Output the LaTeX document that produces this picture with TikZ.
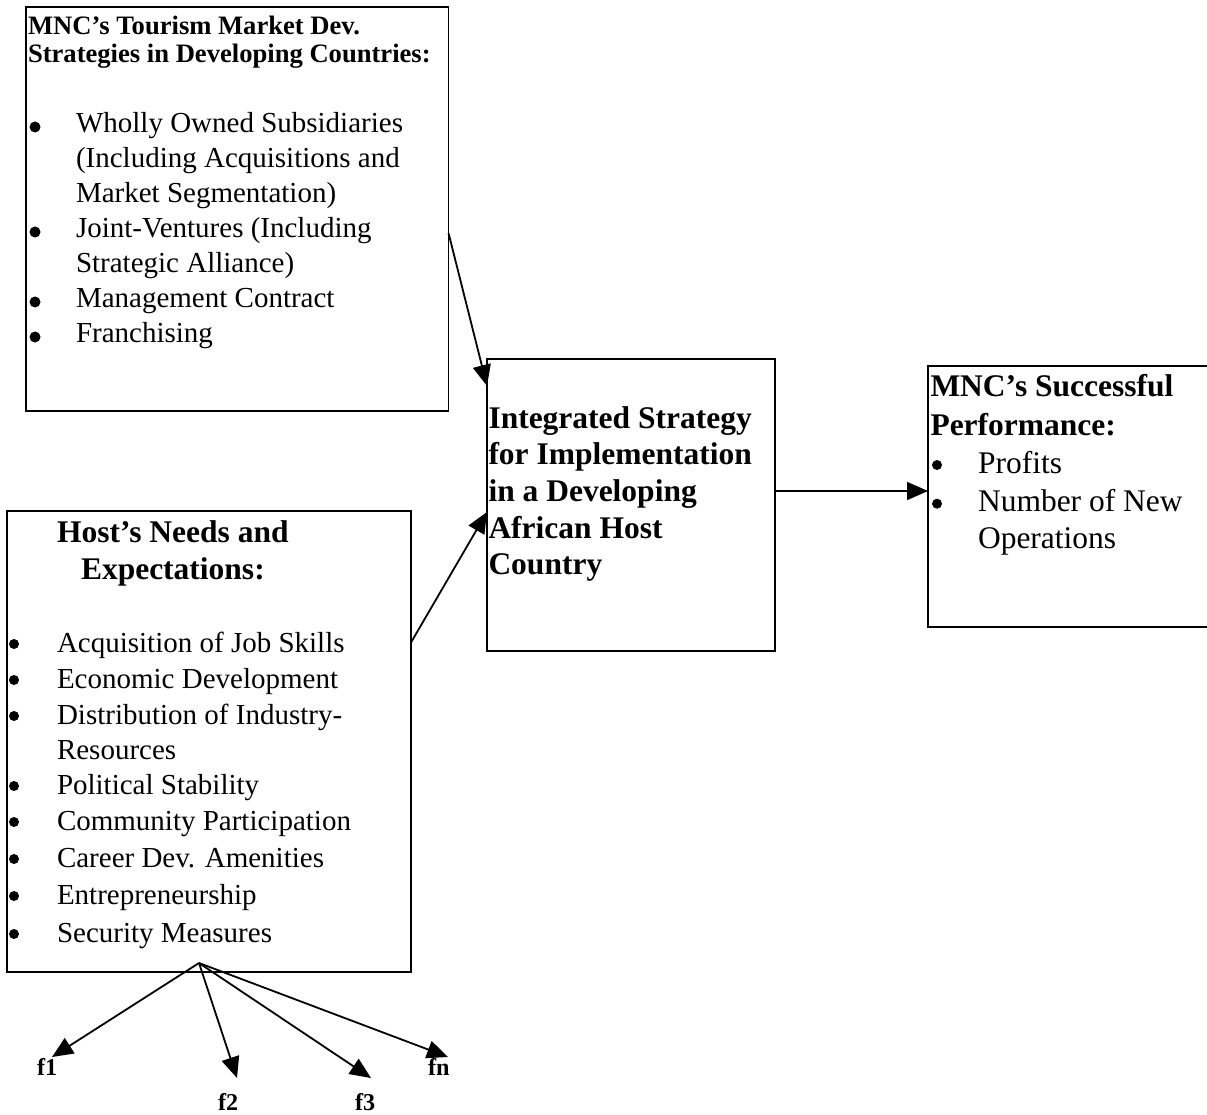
\documentclass[tikz,border=0pt]{standalone}
\usepackage{fontspec}
\setmainfont{Liberation Serif}
\usetikzlibrary{arrows.meta}
\begin{document}
\begin{tikzpicture}[x=1pt,y=-1pt,
  boxframe/.style={draw, line width=1.8pt, inner sep=0pt, outer sep=0pt, anchor=north west},
  conn/.style={line width=1.8pt, -{Triangle[length=21pt,width=18pt]}},
  txt/.style={anchor=base west, inner sep=0pt, outer sep=0pt},
  hdsmall/.style={txt, font=\fontsize{26.6}{30}\selectfont\bfseries},
  item/.style={txt, font=\fontsize{29}{34}\selectfont},
  hdbig/.style={txt, font=\fontsize{31.5}{37}\selectfont\bfseries},
  itembig/.style={txt, font=\fontsize{31.5}{37}\selectfont},
  flabel/.style={txt, font=\fontsize{24.2}{28}\selectfont\bfseries},
  bul/.style={fill=black}
]
\useasboundingbox (0,0) rectangle (1207,1115);

% boxes
\node[boxframe, minimum width=422.5pt, minimum height=404pt] (box1) at (26,7) {};
\node[boxframe, minimum width=403.7pt, minimum height=461pt] (host) at (7,511) {};
\node[boxframe, minimum width=288pt, minimum height=292pt] (integ) at (487,359) {};
\node[boxframe, minimum width=282pt, minimum height=261pt] (succ) at (928,366) {};

% box 1 text
\node[hdsmall] (b1h1) at (28,34.3) {MNC’s Tourism Market Dev.};
\node[hdsmall] (b1h2) at (28,63) {Strategies in Developing Countries:};
\node[item] (b1i1) at (76,132.5) {Wholly Owned Subsidiaries};
\node[item] (b1i2) at (76,167.5) {(Including Acquisitions and};
\node[item] (b1i3) at (76,202.5) {Market Segmentation)};
\node[item] (b1i4) at (76,237.5) {Joint-Ventures (Including};
\node[item] (b1i5) at (76,272.5) {Strategic Alliance)};
\node[item] (b1i6) at (76,307.5) {Management Contract};
\node[item] (b1i7) at (76,342.5) {Franchising};
\foreach \yy in {127,232,302,337}
  \fill[bul] (35,\yy) circle (5.5pt);

% host box text
\node[hdbig] (hh1) at (57,542) {Host’s Needs and};
\node[hdbig] (hh2) at (81,579) {Expectations:};
\node[item] (hi1) at (57,652) {Acquisition of Job Skills};
\node[item] (hi2) at (57,688) {Economic Development};
\node[item] (hi3) at (57,724) {Distribution of Industry-};
\node[item] (hi4) at (57,759) {Resources};
\node[item] (hi5) at (57,794) {Political Stability};
\node[item] (hi6) at (57,830) {Community Participation};
\node[item] (hi7) at (57,867) {Career Dev. Amenities};
\node[item] (hi8) at (57,904) {Entrepreneurship};
\node[item] (hi9) at (57,942) {Security Measures};
\foreach \yy in {644,680,716,786,822,859,896,934}
  \fill[bul] (14,\yy) circle (5pt);

% integrated box text
\node[hdbig] (ig1) at (488.5,428) {Integrated Strategy};
\node[hdbig] (ig2) at (488.5,464.7) {for Implementation};
\node[hdbig] (ig3) at (488.5,501.4) {in a Developing};
\node[hdbig] (ig4) at (488.5,538) {African Host};
\node[hdbig] (ig5) at (488.5,574.7) {Country};

% success box text
\node[hdbig] (sc1) at (930.5,396.7) {MNC’s Successful};
\node[hdbig] (sc2) at (930.5,435) {Performance:};
\node[itembig] (sc3) at (978,473) {Profits};
\node[itembig] (sc4) at (978,511.7) {Number of New};
\node[itembig] (sc5) at (978,548) {Operations};
\fill[bul] (937,465) circle (5pt);
\fill[bul] (937,503.7) circle (5pt);

% f labels
\node[flabel] (f1) at (37,1075) {f1};
\node[flabel] (f2) at (218,1110) {f2};
\node[flabel] (f3) at (355,1110) {f3};
\node[flabel] (fn) at (428,1075) {fn};

% connector end points
\coordinate (a1s) at (448.5,233);
\coordinate (a1t) at (487,386);
\coordinate (a2s) at (410.7,643);
\coordinate (a2t) at (487,512);
\coordinate (a3s) at (775,491);
\coordinate (a3t) at (928,491);
\coordinate (fan) at (199,963);
\coordinate (t1) at (52,1057);
\coordinate (t2) at (237,1078);
\coordinate (t3) at (371,1078);
\coordinate (tn) at (448,1057);

\draw[conn] (a1s) -- (a1t);
\draw[conn] (a2s) -- (a2t);
\draw[conn] (a3s) -- (a3t);
\draw[conn] (fan) -- (t1);
\draw[conn] (fan) -- (t2);
\draw[conn] (fan) -- (t3);
\draw[conn] (fan) -- (tn);
\end{tikzpicture}
\end{document}
